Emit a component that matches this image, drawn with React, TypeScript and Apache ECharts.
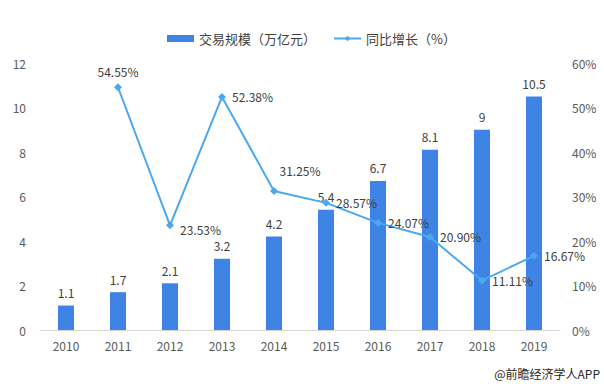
import React, { useEffect, useRef } from "react";
import * as echarts from "echarts";

const categories = ["2010", "2011", "2012", "2013", "2014", "2015", "2016", "2017", "2018", "2019"];
const scaleValues = [1.1, 1.7, 2.1, 3.2, 4.2, 5.4, 6.7, 8.1, 9, 10.5];
const growthValues: (number | null)[] = [null, 54.55, 23.53, 52.38, 31.25, 28.57, 24.07, 20.9, 11.11, 16.67];
const growthLabelPos = ["top", "top", "right", "right", "top", "right", "right", "right", "right", "right"];
const barName = "交易规模（万亿元）";
const lineName = "同比增长（%）";
const sourceText = "@前瞻经济学人APP";

const FONT = "'Noto Sans CJK SC', 'Microsoft YaHei', sans-serif";

export default function App() {
  const ref = useRef<HTMLDivElement>(null);
  useEffect(() => {
    if (!ref.current) return;
    const chart = echarts.init(ref.current, null, { renderer: "svg" });
    const lineData = growthValues.map((v, i) => {
      if (v === null) return null;
      const label: any = { position: growthLabelPos[i] };
      if (i === 4) { label.offset = [26, -4]; }
      if (i === 2) { label.offset = [0, 4]; }
      return { value: v, label };
    });
    chart.setOption({
      animation: false,
      textStyle: { fontFamily: FONT },
      legend: {
        top: 27,
        left: 162,
        itemGap: 17,
        textStyle: { color: "#404040", fontSize: 13, fontFamily: FONT },
        data: [
          { name: barName, icon: "rect", itemStyle: { color: "#3f84e5" } },
          { name: lineName },
        ],
        itemWidth: 27,
        itemHeight: 7,
      },
      grid: { left: 40, right: 44, top: 63, bottom: 58 },
      xAxis: {
        type: "category",
        data: categories,
        axisLine: { lineStyle: { color: "#d9d9d9" } },
        axisTick: { show: false },
        axisLabel: { color: "#595959", fontSize: 12, margin: 9, fontFamily: FONT },
      },
      yAxis: [
        {
          type: "value",
          min: 0,
          max: 12,
          interval: 2,
          splitLine: { show: false },
          axisLine: { show: false },
          axisTick: { show: false },
          axisLabel: { color: "#595959", fontSize: 12, margin: 14, fontFamily: FONT },
        },
        {
          type: "value",
          min: 0,
          max: 60,
          interval: 10,
          splitLine: { show: false },
          axisLine: { show: false },
          axisTick: { show: false },
          axisLabel: { color: "#595959", fontSize: 12, margin: 12, formatter: "{value}%", fontFamily: FONT },
        },
      ],
      series: [
        {
          name: barName,
          type: "bar",
          data: scaleValues,
          barWidth: 16,
          itemStyle: { color: "#3f84e5" },
          label: { show: true, position: "top", color: "#404040", fontSize: 12, distance: 7, fontFamily: FONT },
        },
        {
          name: lineName,
          type: "line",
          yAxisIndex: 1,
          data: lineData,
          symbol: "diamond",
          symbolSize: 8,
          lineStyle: { color: "#4aa8ee", width: 2 },
          itemStyle: { color: "#4aa8ee" },
          label: {
            show: true,
            color: "#404040",
            fontSize: 12,
            distance: 6,
            fontFamily: FONT,
            formatter: (p: any) => Number(p.value).toFixed(2) + "%",
          },
        },
      ],
      graphic: [
        {
          type: "text",
          right: 4,
          top: 367,
          style: { text: sourceText, fill: "#262626", fontSize: 12, fontFamily: FONT },
        },
      ],
    });
    return () => chart.dispose();
  }, []);
  return <div ref={ref} style={{ width: 604, height: 388, position: "absolute", left: 0, top: 0, background: "#fff" }} />;
}
